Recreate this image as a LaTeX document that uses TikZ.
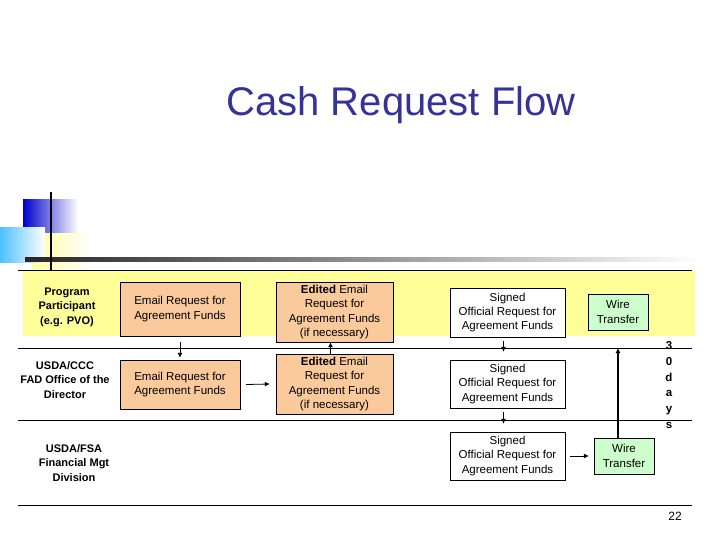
\documentclass[tikz,border=0pt]{standalone}
\usepackage{fontspec}
\setmainfont{Liberation Sans}
\usetikzlibrary{arrows.meta}
\definecolor{ttl}{HTML}{333399}
\definecolor{org}{HTML}{FAC99C}
\definecolor{grn}{HTML}{CCFFCC}
\definecolor{ylw}{HTML}{FFFF99}
\begin{document}
\begin{tikzpicture}[x=1pt,y=-1pt,
  box/.style={draw,thin,align=center,font=\fontsize{11.5}{14.3}\selectfont,inner sep=0pt},
  obox/.style={box,fill=org},
  wbox/.style={box,fill=white},
  gbox/.style={box,fill=grn},
  lab/.style={align=center,font=\bfseries\fontsize{11}{14.5}\selectfont},
  arr/.style={-{Latex[length=5pt,width=5pt]},thick}]
\useasboundingbox (0,0) rectangle (720,540);
\node[text=ttl,font=\fontsize{40}{44}\selectfont] (title) at (401,105) {Cash Request Flow};
% decoration
\shade[left color=blue!80!black,right color=white] (23,200) rectangle (78,252);
\shade[left color=ylw,right color=white] (32,233) rectangle (90,270);
\shade[left color=blue!35!cyan!70,right color=white] (0,228) rectangle (45,262);
\shade[left color=black!85,right color=white] (25,257) rectangle (700,261);
\draw[line width=2.5pt] (51,192) -- (51,270);
% band and lines
\fill[ylw] (23,271) rectangle (695,336);
\draw (18,270) -- (692,270);
\draw (18,348) -- (692,348);
\draw (18,420) -- (692,420);
\draw (18,505) -- (692,505);
% row labels
\node[lab] (l1) at (67,307) {Program\\Participant\\(e.g. PVO)};
\node[lab] (l2) at (65,380) {USDA/CCC\\FAD Office of the\\Director};
\node[lab] (l3) at (74,463) {USDA/FSA\\Financial Mgt\\Division};
% boxes
\node[obox,minimum width=120,minimum height=54] (e1) at (180,309) {Email Request for\\Agreement Funds};
\node[obox,minimum width=120,minimum height=49] (e2) at (180,384.5) {Email Request for\\Agreement Funds};
\node[obox,minimum width=117,minimum height=60] (d1) at (334.5,312) {\textbf{Edited} Email\\Request for\\Agreement Funds\\(if necessary)};
\node[obox,minimum width=117,minimum height=60] (d2) at (334.5,384) {\textbf{Edited} Email\\Request for\\Agreement Funds\\(if necessary)};
\node[wbox,minimum width=115,minimum height=49] (s1) at (507.5,312.5) {Signed\\Official Request for\\Agreement Funds};
\node[wbox,minimum width=115,minimum height=48] (s2) at (507.5,384) {Signed\\Official Request for\\Agreement Funds};
\node[wbox,minimum width=115,minimum height=48] (s3) at (507.5,456) {Signed\\Official Request for\\Agreement Funds};
\node[gbox,minimum width=60,minimum height=36] (w1) at (618,312) {Wire\\Transfer};
\node[gbox,minimum width=60,minimum height=36] (w2) at (624,456) {Wire\\Transfer};
\coordinate (wt) at (618,348);
% arrows
\draw[arr] ([yshift=-6pt]e1.south) -- ([yshift=2pt]e2.north);
\draw[arr] ([xshift=6pt]e2.east) -- ([xshift=-6pt]d2.west);
\draw[arr] ([xshift=-4pt]d2.north) -- ([xshift=-4pt]d1.south);
\draw[arr] ([xshift=-4pt,yshift=-4pt]s1.south) -- ([xshift=-4pt,yshift=8pt]s2.north);
\draw[arr] ([xshift=-4pt,yshift=-4pt]s2.south) -- ([xshift=-4pt,yshift=8pt]s3.north);
\draw[arr] ([xshift=5pt]s3.east) -- ([xshift=-5pt]w2.west);
\draw[arr,very thick] (w2.north -| wt) -- (wt);
% 30 days
\node[lab,font=\bfseries\fontsize{11.5}{15.7}\selectfont] (days) at (669,385) {3\\0\\d\\a\\y\\s};
\node[font=\fontsize{12}{14}\selectfont] (pg) at (675,516) {22};
\end{tikzpicture}
\end{document}
